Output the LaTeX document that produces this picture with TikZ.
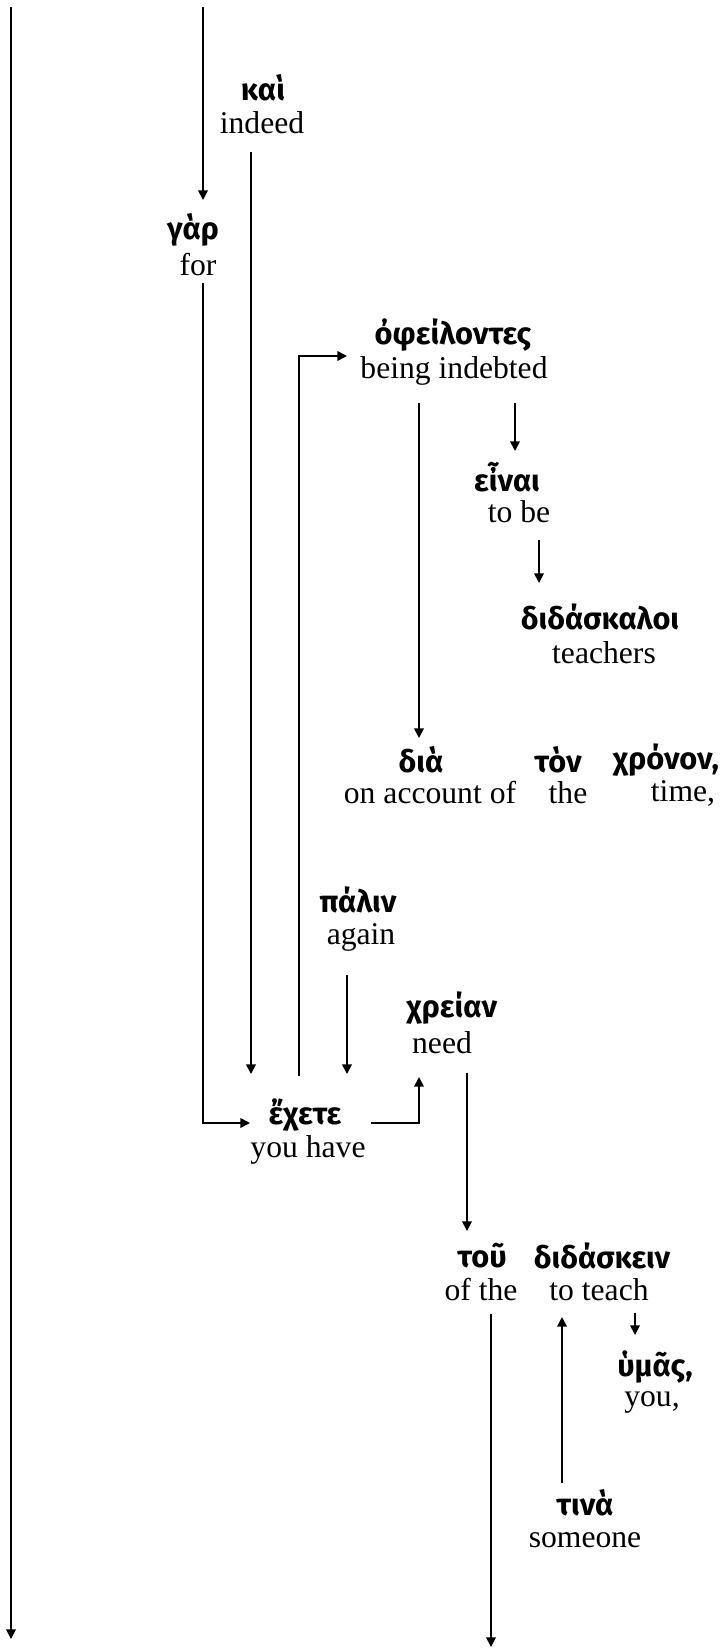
\documentclass[tikz,border=0pt]{standalone}
\usepackage{fontspec}
\setmainfont{Liberation Serif}
\newfontfamily\gkfont{Fira Sans}
\usetikzlibrary{arrows.meta}

\tikzset{
	gk/.style={inner sep=0pt, font=\gkfont\bfseries\fontsize{17.5}{20}\selectfont},
	en/.style={inner sep=0pt, font=\fontsize{18}{21}\selectfont},
}

\begin{document}
\begin{tikzpicture}[line width=1pt, >={Triangle[length=5.5pt,width=5.5pt]}]
	\useasboundingbox (0,0) rectangle (14.52,-32.96);

	\node[gk] (kai) at (5.26,-1.76) {καὶ};
	\node[en] (kai-en) at (5.24,-2.46) {indeed};
	\node[gk] (gar) at (3.86,-4.60) {γὰρ};
	\node[en] (gar-en) at (3.96,-5.30) {for};

	\node[gk] (ofeil) at (9.06,-6.70) {ὀφείλοντες};
	\node[en] (ofeil-en) at (9.08,-7.42) {being indebted};
	\node[gk] (einai) at (10.14,-9.54) {εἶναι};
	\node[en] (einai-en) at (10.38,-10.24) {to be};
	\node[gk] (didask) at (12.00,-12.34) {διδάσκαλοι};
	\node[en] (didask-en) at (12.08,-13.06) {teachers};

	\node[gk] (dia) at (8.42,-15.20) {διὰ};
	\node[en] (dia-en) at (8.60,-15.86) {on account of};
	\node[gk] (ton) at (11.16,-15.20) {τὸν};
	\node[en] (ton-en) at (11.36,-15.86) {the};
	\node[gk] (chronon) at (13.32,-15.20) {χρόνον,};
	\node[en] (chronon-en) at (13.66,-15.86) {time,};

	\node[gk] (palin) at (7.16,-18.00) {πάλιν};
	\node[en] (palin-en) at (7.22,-18.74) {again};
	\node[gk] (chreian) at (9.04,-20.16) {χρείαν};
	\node[en] (chreian-en) at (8.84,-20.86) {need};
	\node[gk] (exete) at (6.10,-22.30) {ἔχετε};
	\node[en] (exete-en) at (6.16,-23.00) {you have};

	\node[gk] (tou) at (9.64,-25.12) {τοῦ};
	\node[en] (tou-en) at (9.62,-25.80) {of the};
	\node[gk] (didaskein) at (12.04,-25.12) {διδάσκειν};
	\node[en] (didaskein-en) at (11.98,-25.80) {to teach};
	\node[gk] (hymas) at (13.10,-27.34) {ὑμᾶς,};
	\node[en] (hymas-en) at (13.04,-28.04) {you,};
	\node[gk] (tina) at (11.70,-30.06) {τινὰ};
	\node[en] (tina-en) at (11.70,-30.80) {someone};

	% lines coming in from above / going on below
	\coordinate (left-in) at (0.22,-0.14);
	\coordinate (left-out) at (0.22,-32.78);
	\coordinate (gar-in) at (4.06,-0.14);
	\coordinate (tou-out) at (9.82,-32.94);

	\draw [->] (left-in) -- (left-out);
	\draw [->] (gar-in) -- ([yshift=0.6cm]gar-in |- gar.center);

	\draw [->] ([xshift=-0.22cm,yshift=-0.58cm]kai-en.center) -- ([xshift=-0.22cm,yshift=0.82cm]kai-en.center |- exete.center);
	\draw [->] ([xshift=0.1cm,yshift=-0.36cm]gar-en.center) |- ([xshift=-1.1cm,yshift=-0.16cm]exete.center);
	\draw [->] ([xshift=-0.12cm,yshift=0.78cm]exete.center) |- ([xshift=-2.12cm,yshift=-0.42cm]ofeil.center);

	\draw [->] ([xshift=-0.7cm,yshift=-0.64cm]ofeil-en.center) -- ([xshift=-0.7cm,yshift=0.44cm]ofeil-en.center |- dia.center);
	\draw [->] ([xshift=1.22cm,yshift=-0.64cm]ofeil-en.center) -- ([xshift=1.22cm,yshift=0.52cm]ofeil-en.center |- einai.center);
	\draw [->] ([xshift=0.4cm,yshift=-0.56cm]einai-en.center) -- ([xshift=0.4cm,yshift=0.68cm]einai-en.center |- didask.center);

	\draw [->] ([xshift=-0.28cm,yshift=-0.76cm]palin-en.center) -- ([xshift=-0.28cm,yshift=0.82cm]palin-en.center |- exete.center);
	\draw [->] ([xshift=1.32cm,yshift=-0.16cm]exete.center) -| ([xshift=-0.46cm,yshift=-0.68cm]chreian-en.center);
	\draw [->] ([xshift=0.5cm,yshift=-0.6cm]chreian-en.center) -- ([xshift=0.5cm,yshift=0.5cm]chreian-en.center |- tou.center);

	\draw [->] ([xshift=0.72cm,yshift=-0.46cm]didaskein-en.center) -- ([xshift=0.72cm,yshift=0.64cm]didaskein-en.center |- hymas.center);
	\draw [->] ([xshift=0.2cm,yshift=-0.48cm]tou-en.center) -- (tou-out);
	\draw [->] ([xshift=-0.46cm,yshift=0.4cm]tina.center) -- ([xshift=-0.46cm,yshift=-0.54cm]tina.center |- didaskein-en.center);

\end{tikzpicture}
\end{document}
